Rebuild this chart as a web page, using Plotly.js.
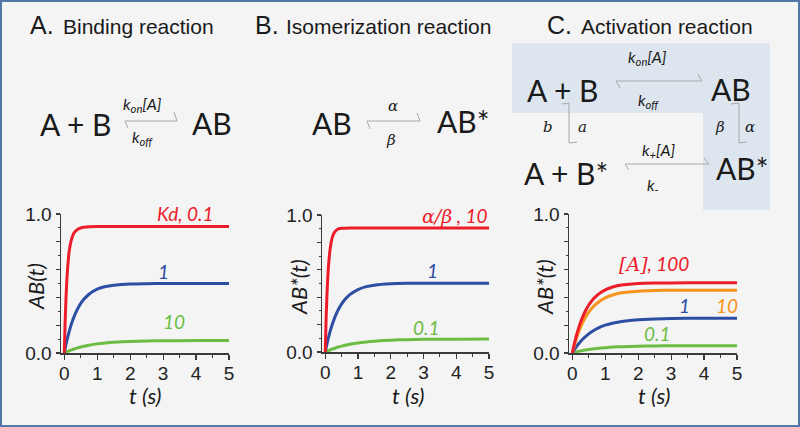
<!DOCTYPE html>
<html>
<head>
<meta charset="utf-8">
<script src="https://cdn.plot.ly/plotly-3.0.1.min.js"></script>
<style>html,body{margin:0;padding:0;background:#f4f4f4;}#chart{width:800px;height:427px;}</style>
</head>
<body>
<div id="chart"></div>
<script>
// ---- data ----
const time = [0,0.025,0.05,0.075,0.1,0.15,0.2,0.25,0.3,0.4,0.5,0.6,0.75,1,1.25,1.5,2,2.5,3,4,5];

// Panel A: binding reaction, AB(t) for Kd = 0.1, 1, 10
const A_kd01 = [0,0.219,0.385,0.511,0.607,0.735,0.800,0.840,0.866,0.889,0.899,0.904,0.908,0.91,0.91,0.91,0.91,0.91,0.91,0.91,0.91];
const A_kd1  = [0,0.030,0.059,0.0855,0.111,0.156,0.197,0.2325,0.264,0.316,0.357,0.388,0.423,0.459,0.478,0.488,0.497,0.499,0.5,0.5,0.5];
const A_kd10 = [0,0.0029,0.0057,0.0084,0.011,0.016,0.0206,0.025,0.029,0.0365,0.043,0.0488,0.056,0.0657,0.0723,0.077,0.083,0.0865,0.088,0.0895,0.09];

// Panel B: isomerization reaction, AB*(t) for alpha/beta = 10, 1, 0.1
const B_r10  = [0,0.235,0.408,0.537,0.633,0.756,0.823,0.860,0.880,0.898,0.903,0.904,0.905,0.905,0.905,0.905,0.905,0.905,0.905,0.905,0.905];
const B_r1   = [0,0.029,0.057,0.083,0.107,0.152,0.191,0.226,0.258,0.310,0.351,0.383,0.419,0.456,0.477,0.488,0.498,0.501,0.502,0.502,0.502];
const B_r01  = [0,0.0028,0.0055,0.0082,0.0107,0.0157,0.0202,0.0246,0.0287,0.0362,0.0429,0.0487,0.0563,0.0664,0.0738,0.0793,0.0864,0.0903,0.0924,0.0938,0.0945];

// Panel C: activation reaction, AB*(t) for [A] = 100, 10, 1, 0.1
const C_a100 = [0,0.028,0.055,0.080,0.104,0.147,0.186,0.221,0.251,0.304,0.345,0.378,0.415,0.454,0.477,0.489,0.5,0.503,0.504,0.505,0.505];
const C_a10  = [0,0.023,0.045,0.066,0.086,0.122,0.155,0.185,0.211,0.257,0.294,0.324,0.358,0.397,0.419,0.433,0.445,0.450,0.451,0.452,0.452];
const C_a1   = [0,0.0098,0.019,0.028,0.037,0.053,0.068,0.082,0.095,0.118,0.138,0.154,0.175,0.2,0.216,0.227,0.240,0.245,0.248,0.25,0.25];
const C_a01  = [0,0.0017,0.0033,0.0049,0.0065,0.0094,0.012,0.0147,0.017,0.0215,0.0253,0.0287,0.033,0.0386,0.0426,0.0455,0.049,0.051,0.052,0.053,0.053];

const xTicks = [0,1,2,3,4,5];
const yTicks = [0,0.2,0.4,0.6,0.8,1.0];
const yTickText = ['0.0','','','','','1.0'];

// ---- styling ----
const RED = '#ec1c2a', BLUE = '#2c4ea3', GREEN = '#6dbd45', ORANGE = '#f7941d';
const W = 800, H = 427;
const px = x => x / W;
const py = y => 1 - y / H;

function trace(y, color, xa, ya) {
  return {x: time, y: y, type: 'scatter', mode: 'lines', xaxis: xa, yaxis: ya,
    line: {color: color, width: 3, shape: 'spline', smoothing: 0.6}, hoverinfo: 'skip', showlegend: false};
}
const data = [
  trace(A_kd10, GREEN, 'x', 'y'), trace(A_kd1, BLUE, 'x', 'y'), trace(A_kd01, RED, 'x', 'y'),
  trace(B_r01, GREEN, 'x2', 'y2'), trace(B_r1, BLUE, 'x2', 'y2'), trace(B_r10, RED, 'x2', 'y2'),
  trace(C_a01, GREEN, 'x3', 'y3'), trace(C_a1, BLUE, 'x3', 'y3'), trace(C_a10, ORANGE, 'x3', 'y3'), trace(C_a100, RED, 'x3', 'y3')
];

const AX = '#3a3a3a';
function xax(l, r, anchor) {
  return {domain: [px(l), px(r)], range: [-0.1, 5], anchor: anchor, tickmode: 'array', tickvals: xTicks,
    ticks: 'outside', ticklen: 5, tickwidth: 1.2, tickcolor: AX, showline: true, linecolor: AX, linewidth: 1.5,
    ticklabelstandoff: -2,
    showgrid: false, zeroline: false, tickfont: {family: 'Liberation Sans, Arial, sans-serif', size: 19, color: '#222'},
    minor: {tickmode: 'linear', tick0: 0, dtick: 0.5, ticks: 'outside', ticklen: 3, tickwidth: 1, tickcolor: AX, showgrid: false},
    fixedrange: true};
}
function yax(top, bot, anchor) {
  return {domain: [py(bot), py(top)], range: [0, 1], anchor: anchor, tickmode: 'array', tickvals: yTicks, ticktext: yTickText,
    ticks: 'outside', ticklen: 4, tickwidth: 1.2, tickcolor: AX, showline: true, linecolor: AX, linewidth: 1.5,
    showgrid: false, zeroline: false, tickfont: {family: 'Liberation Sans, Arial, sans-serif', size: 19, color: '#222'},
    minor: {tickmode: 'linear', tick0: 0, dtick: 0.1, ticks: 'outside', ticklen: 2, tickwidth: 1, tickcolor: AX, showgrid: false},
    fixedrange: true};
}

function ann(text, x, y, size, opts) {
  opts = opts || {};
  return Object.assign({text: text, x: px(x), y: py(y), xref: 'paper', yref: 'paper', showarrow: false,
    xanchor: 'center', yanchor: 'middle', font: {family: opts.family || 'Lato, sans-serif', size: size, color: opts.color || '#1a1a1a'}},
    opts.extra || {});
}
const SERIF = 'DejaVu Serif, Liberation Serif, serif';
const annotations = [
  // titles
  ann('A.', 28, 25, 25, {family: 'Liberation Sans, Arial', extra: {xanchor: 'left'}}),
  ann('Binding reaction', 61, 27, 21, {family: 'Liberation Sans, Arial', extra: {xanchor: 'left'}}),
  ann('B.', 253, 25, 25, {family: 'Liberation Sans, Arial', extra: {xanchor: 'left'}}),
  ann('Isomerization reaction', 284, 27, 21, {family: 'Liberation Sans, Arial', extra: {xanchor: 'left'}}),
  ann('C.', 545, 25, 25, {family: 'Liberation Sans, Arial', extra: {xanchor: 'left'}}),
  ann('Activation reaction', 579, 27, 21, {family: 'Liberation Sans, Arial', extra: {xanchor: 'left'}}),
  // scheme A
  ann('A + B', 75, 124, 30),
  ann('AB', 212, 123, 30),
  ann('<i>k<sub>on</sub>[A]</i>', 142, 104, 16),
  ann('<i>k<sub>off</sub></i>', 142, 137, 16),
  // scheme B
  ann('AB', 332, 123, 30),
  ann('AB*', 463, 121, 30),
  ann('<i>α</i>', 393, 106, 15, {family: SERIF}),
  ann('<i>β</i>', 391, 140, 15, {family: SERIF}),
  // scheme C
  ann('A + B', 562, 90, 30),
  ann('AB', 731, 89, 30),
  ann('<i>k<sub>on</sub>[A]</i>', 647, 57, 16),
  ann('<i>k<sub>off</sub></i>', 648, 100, 16),
  ann('<i>b</i>', 548, 127, 15, {family: SERIF}),
  ann('<i>a</i>', 582, 127, 15, {family: SERIF}),
  ann('<i>β</i>', 720, 127, 15, {family: SERIF}),
  ann('<i>α</i>', 750, 127, 15, {family: SERIF}),
  ann('A + B*', 566, 173, 30),
  ann('AB*', 742, 168, 30),
  ann('<i>k<sub>+</sub>[A]</i>', 658, 151, 16),
  ann('<i>k<sub>-</sub></i>', 653, 185, 16),
  // axis titles
  ann('<i>t (s)</i>', 145, 395, 22),
  ann('<i>AB(t)</i>', 35, 287, 22, {extra: {textangle: -90}}),
  ann('<i>t (s)</i>', 408, 395, 22),
  ann('<i>AB*(t)</i>', 298, 287, 22, {extra: {textangle: -90}}),
  ann('<i>t (s)</i>', 654, 395, 22),
  ann('<i>AB*(t)</i>', 544, 287, 22, {extra: {textangle: -90}}),
  // curve labels
  ann('<i>Kd, 0.1</i>', 185, 213, 19, {color: RED}),
  ann('<i>1</i>', 163, 271, 19, {color: BLUE}),
  ann('<i>10</i>', 174, 321, 19, {color: GREEN}),
  ann('<i><span style="font-family:DejaVu Serif, serif">α/β</span> , 10</i>', 454, 215, 19, {color: RED}),
  ann('<i>1</i>', 432, 270, 19, {color: BLUE}),
  ann('<i>0.1</i>', 427, 327, 19, {color: GREEN}),
  ann('<i><span style="font-family:DejaVu Serif, serif">[A]</span>, 100</i>', 654, 263, 19, {color: RED}),
  ann('<i>1</i>', 684, 305, 19, {color: BLUE}),
  ann('<i>10</i>', 727, 305, 19, {color: ORANGE}),
  ann('<i>0.1</i>', 657, 333, 19, {color: GREEN})
];

const G = '#a8a8a8';
function L(x0, y0, x1, y1) {
  return {type: 'line', xref: 'paper', yref: 'paper', x0: px(x0), y0: py(y0), x1: px(x1), y1: py(y1),
    line: {color: G, width: 1}, layer: 'above'};
}
const shapes = [
  // shaded L-region in panel C
  {type: 'rect', xref: 'paper', yref: 'paper', x0: px(512), y0: py(43), x1: px(770), y1: py(113), fillcolor: '#dde6ef', line: {width: 0}, layer: 'below'},
  {type: 'rect', xref: 'paper', yref: 'paper', x0: px(703), y0: py(113), x1: px(770), y1: py(210), fillcolor: '#dde6ef', line: {width: 0}, layer: 'below'},
  // harpoons A
  L(125, 121, 177, 121), L(177, 121, 174, 112), L(125, 121, 128, 128),
  // harpoons B
  L(367, 121, 420, 121), L(420, 121, 417, 113), L(367, 121, 370, 129),
  // harpoons C top
  L(616, 81, 702, 81), L(702, 81, 698, 74), L(616, 81, 620, 88),
  // C left vertical
  L(569, 103, 569, 143), L(569, 103, 562, 104), L(569, 143, 577, 142),
  // C right vertical
  L(739, 103, 739, 143), L(739, 103, 731, 104), L(739, 143, 747, 142),
  // C bottom
  L(625, 164, 709, 164), L(709, 164, 704, 158), L(625, 164, 629, 170),
  // frame
  {type: 'rect', xref: 'paper', yref: 'paper', x0: px(1), y0: py(1), x1: px(799), y1: py(426), line: {color: '#4f78a6', width: 2}, layer: 'above'}
];

const layout = {
  width: W, height: H, margin: {l: 0, r: 0, t: 0, b: 0},
  paper_bgcolor: '#f4f4f4', plot_bgcolor: 'rgba(0,0,0,0)', showlegend: false,
  xaxis: xax(61, 229, 'y'), yaxis: yax(214, 353, 'x'),
  xaxis2: xax(322, 489, 'y2'), yaxis2: yax(215, 352, 'x2'),
  xaxis3: xax(569, 737, 'y3'), yaxis3: yax(214, 353, 'x3'),
  annotations: annotations, shapes: shapes
};
Plotly.newPlot('chart', data, layout, {displayModeBar: false, staticPlot: true});
</script>
</body>
</html>
